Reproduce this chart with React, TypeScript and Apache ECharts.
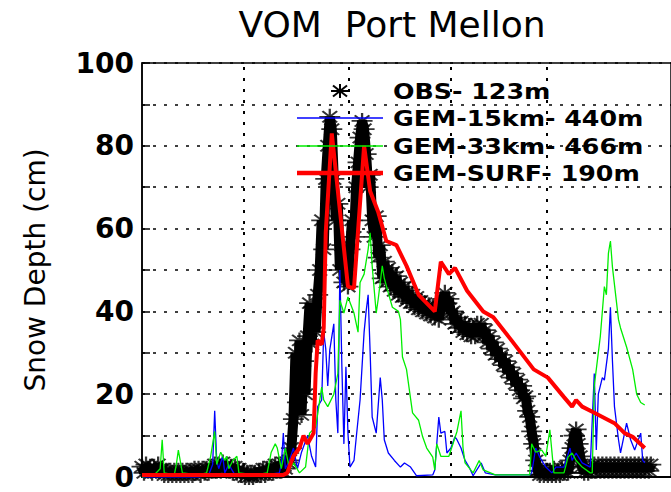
import React, { useEffect, useRef } from "react";
import * as echarts from "echarts";

// Observed snow depth (cm), one reading per day from the start of the record
const obsDepth = [
  2.5, 1, 3, 1.5, 2.5, 1, 2.5, 1.5, 3, 1.5,
  2, 0.5, 1.5, 0.5, 1.5, 0.5, 1.5, 0.5, 1.5, 0.5,
  1.5, 0.5, 1.5, 0.5, 1.5, 0.5, 2, 1, 2, 0.5,
  2, 1, 2, 1, 2.5, 1.5, 3, 1.5, 3, 1.5,
  3.5, 2, 3, 1.5, 2.5, 1, 2.5, 1, 2, 0.5,
  1.5, 0, 1, 0, 1, 0, 1, 0.5, 1.5, 0.5,
  2, 0.5, 2, 1, 2.5, 1, 3, 1.5, 3, 1.5,
  3.5, 2, 3.5, 4, 7, 14, 30, 18, 33, 15,
  28, 20, 34, 42, 32, 41, 35, 44, 50, 62,
  55, 72, 80, 87, 84, 72, 62, 66, 50, 56,
  47, 52, 46, 55, 62, 58, 70, 76, 82, 86,
  84, 78, 70, 73, 62, 58, 63, 53, 56, 48,
  52, 47, 50.5, 46, 49.5, 45, 48.5, 44, 47, 43.5,
  46, 42.5, 45, 42, 44, 41, 43.5, 40.5, 42.5, 40,
  42, 39.5, 41.5, 39, 41, 38.5, 40.5, 38, 41, 43,
  44.5, 42, 43, 39.5, 40, 37, 38.5, 36, 37.5, 35,
  37, 34.5, 36.5, 34, 36, 34, 37, 35, 37, 34,
  35.5, 32.5, 34, 31, 32.5, 29.5, 31, 28.5, 29.5, 27,
  28, 25.5, 26.5, 24, 25, 22.5, 23.5, 21, 22, 19,
  19.5, 16, 14.5, 11, 8, 4, 1.5, 0.5, 1.5, 0.5,
  1.5, 0.5, 1.5, 0.5, 2, 0.5, 1.5, 0.5, 2, 1,
  2.5, 1, 4, 7, 10, 11.5, 8, 5, 2.5, 1,
  2.5, 1, 2.5, 1.5, 3, 1.5, 3, 1.5, 3, 1.5,
  3, 1.5, 3, 1.5, 3, 1.5, 3, 1.5, 3, 1.5,
  3, 1.5, 3, 1.5, 3, 1.5, 3, 1.5, 3, 1.5,
  3, 1.5, 3,
];

// GEM 15 km model
const gem15Days = [
  0, 28, 33, 35, 36, 37, 38, 40, 41, 43,
  46, 61, 68, 69, 70, 71, 73, 75, 77, 79,
  82, 84, 86, 87, 89, 90, 91, 92, 93, 95,
  96, 97, 98, 99, 100, 101, 102, 103, 105, 106,
  108, 110, 111, 112, 113, 114, 116, 118, 119, 120,
  122, 125, 128, 130, 133, 136, 144, 145, 147, 148,
  150, 151, 153, 155, 156, 158, 160, 162, 164, 168,
  170, 175, 192, 193, 195, 197, 200, 203, 205, 209,
  212, 213, 215, 218, 222, 223, 224, 225, 226, 228,
  229, 231, 232, 233, 234, 236, 237, 239, 240, 242,
  244, 247, 248, 249,
];
const gem15Depth = [
  0, 0, 0.5, 3, 16, 4, 2, 5, 1, 3,
  0.5, 0.5, 1, 3, 10.6, 2, 4, 7, 2, 6,
  10, 5, 2.4, 17, 18.6, 35, 31, 22, 30.7, 37,
  18.6, 10.6, 50, 26.5, 8, 26.6, 10.6, 2.4, 4, 9,
  18.6, 35, 40, 44, 30, 14.5, 10.6, 24, 18.6, 9,
  5.8, 4, 2.4, 3.4, 2.4, 0.3, 0.5, 1.7, 14.5, 10.6,
  11, 5.8, 7, 9.7, 9, 7, 4, 2.4, 0.3, 3.4,
  1, 0.5, 0.5, 1, 7, 4.8, 2.4, 1, 2.4, 2.4,
  7, 4, 5.8, 3.4, 2.4, 13.7, 25, 6.5, 20, 24,
  23.4, 31, 41, 28, 17, 9, 5.8, 10.6, 13, 9,
  6.5, 10.6, 4, 3.4,
];

// GEM 33 km model
const gem33Days = [
  0, 6, 9, 10, 11, 16, 17, 18, 20, 28,
  32, 34, 36, 37, 39, 41, 42, 43, 45, 47,
  48, 56, 62, 64, 66, 67, 69, 71, 73, 75,
  78, 81, 83, 86, 89, 90, 92, 95, 97, 98,
  100, 102, 105, 107, 108, 110, 112, 113, 114, 116,
  117, 119, 120, 122, 124, 127, 128, 129, 131, 134,
  137, 139, 141, 144, 145, 146, 148, 152, 156, 158,
  159, 160, 164, 167, 169, 175, 192, 193, 195, 198,
  200, 202, 204, 209, 211, 213, 215, 218, 222, 223,
  224, 227, 229, 230, 231, 232, 233, 236, 237, 240,
  243, 245, 247, 249,
];
const gem33Depth = [
  0, 0.5, 2, 9, 1, 0.5, 3, 6.5, 1, 0.5,
  1, 5, 11, 3, 6, 4, 5, 2, 4, 5,
  1, 0.5, 1, 6, 8, 7, 2, 7, 2, 3.4,
  1, 2.4, 10.6, 12, 21.7, 18.6, 17, 20, 25, 42.7,
  39.6, 43.5, 39.6, 35, 47, 49, 55, 59, 51, 39.6,
  43, 51, 48, 44.4, 41, 40, 38, 29, 26, 15.5,
  13.7, 9.7, 7, 4.8, 1.7, 8, 5, 5, 11, 16,
  7, 3.4, 1, 4, 1.7, 0.5, 0.5, 8, 6, 6.5,
  5, 11.4, 1, 1, 4.8, 5.8, 4, 2.4, 1, 1,
  22, 34, 46, 44, 54, 57, 50.7, 38, 36, 31.4,
  26, 20, 18, 17.4,
];

// GEM surface model
const surfDays = [
  0, 70, 72, 73, 75, 78, 80, 82, 85, 86,
  87, 89, 90, 91, 94, 102, 105, 110, 113, 117,
  121, 126, 131, 137, 145, 148, 152, 155, 161, 169,
  174, 183, 194, 201, 209, 213, 215, 218, 224, 234,
  239, 243, 249,
];
const surfDepth = [
  0.5, 0.5, 1, 2.5, 5, 7, 10, 8, 10.6, 25,
  33, 32, 36, 59, 83, 46, 45.6, 80, 69, 64,
  57, 56, 51, 44, 40, 52, 49, 50.5, 45, 40,
  38.6, 33, 26, 24, 19.3, 17, 18.6, 17, 15.5, 13,
  10.6, 9.7, 7,
];

// first day of each month, in days from the start of the record
const monthStartDays = [50.5, 102.5, 153, 200.5];

const seriesNames = ["OBS- 123m", "GEM-15km- 440m", "GEM-33km- 466m", "GEM-SURF- 190m"];
const seriesColors = ["#000000", "#0000ff", "#00ee00", "#ff0000"];
const yLabelTicks = [0, 20, 40, 60, 80, 100];

const FONT = "DejaVu Sans";
// eight-armed asterisk marker
const STAR = "path://M0,5L10,5M5,0L5,10M1.5,1.5L8.5,8.5M8.5,1.5L1.5,8.5";

const pairs = (xs: number[], ys: number[]) => xs.map((x, i) => [x, ys[i]]);

export default function App() {
  const ref = useRef<HTMLDivElement>(null);

  useEffect(() => {
    if (!ref.current) return;
    const chart = echarts.init(ref.current, null, { renderer: "svg" });

    const gridDash = { color: "#000", width: 1.5, type: [3, 8] as number[] };
    const obsPoints = obsDepth.map((v, i) => [i, v]);

    // legend rows: y centre of each entry
    const rowY = [91, 118, 146, 173];
    const lineX0 = 297;
    const lineX1 = 383;
    const starCx = 340;
    const legendLines = [1, 2, 3].map((k) => ({
      type: "line",
      z: 100,
      shape: { x1: lineX0, y1: rowY[k], x2: lineX1, y2: rowY[k] },
      style: { stroke: seriesColors[k], lineWidth: k === 3 ? 4.5 : 1.5 },
    }));
    const legendTexts = seriesNames.map((name, k) => ({
      type: "text",
      z: 100,
      x: 393,
      y: rowY[k] + 1,
      scaleX: 1.15,
      style: {
        text: name,
        font: `bold 22px "${FONT}"`,
        fill: "#000",
        verticalAlign: "middle",
        align: "left",
      },
    }));
    const star = {
      type: "group",
      z: 100,
      x: starCx,
      y: rowY[0],
      children: [
        { type: "line", shape: { x1: -9, y1: 0, x2: 9, y2: 0 } },
        { type: "line", shape: { x1: 0, y1: -7, x2: 0, y2: 7 } },
        { type: "line", shape: { x1: -7, y1: -5.5, x2: 7, y2: 5.5 } },
        { type: "line", shape: { x1: 7, y1: -5.5, x2: -7, y2: 5.5 } },
      ].map((c) => ({ ...c, style: { stroke: "#000", lineWidth: 2 } })),
    };

    chart.setOption({
      animation: false,
      backgroundColor: "#fff",
      grid: {
        left: 142,
        top: 63,
        width: 553,
        height: 414,
        show: true,
        borderColor: "#000",
        borderWidth: 1.5,
      },
      xAxis: {
        type: "value",
        min: 0,
        max: 262,
        axisLine: { show: true, onZero: false, lineStyle: { color: "#000", width: 2 } },
        axisTick: { show: false },
        axisLabel: { show: false },
        splitLine: { show: false },
      },
      yAxis: {
        type: "value",
        min: 0,
        max: 100,
        interval: 10,
        axisLine: { show: true, lineStyle: { color: "#000", width: 1.5 } },
        axisTick: { show: true, inside: true, length: 8, lineStyle: { color: "#000", width: 1.5 } },
        axisLabel: {
          color: "#000",
          fontFamily: FONT,
          fontWeight: "bold",
          fontSize: 28,
          lineHeight: 22,
          margin: 8,
          formatter: (v: number) => (yLabelTicks.includes(v) ? String(v) : ""),
        },
        splitLine: { show: true, lineStyle: gridDash },
      },
      series: [
        {
          name: "month grid",
          type: "line",
          data: [],
          z: 1,
          markLine: {
            z: 1,
            silent: true,
            symbol: "none",
            label: { show: false },
            lineStyle: { color: "#000", width: 2, type: [3, 8] },
            data: monthStartDays.map((d) => ({ xAxis: d })),
          },
        },
        {
          // densely overplotted readings merge into a dark band under the markers
          name: "obs band",
          type: "line",
          data: obsPoints,
          showSymbol: false,
          lineStyle: { color: "#000", width: 10 },
          z: 2,
        },
        {
          name: seriesNames[0],
          type: "scatter",
          data: obsPoints,
          symbol: STAR,
          symbolSize: [21, 16],
          itemStyle: { color: "none", borderColor: "#000", borderWidth: 2 },
          z: 2,
        },
        {
          name: seriesNames[1],
          type: "line",
          data: pairs(gem15Days, gem15Depth),
          showSymbol: false,
          lineStyle: { color: seriesColors[1], width: 1.3 },
          z: 3,
        },
        {
          name: seriesNames[2],
          type: "line",
          data: pairs(gem33Days, gem33Depth),
          showSymbol: false,
          lineStyle: { color: seriesColors[2], width: 1.3 },
          z: 4,
        },
        {
          name: seriesNames[3],
          type: "line",
          data: pairs(surfDays, surfDepth),
          showSymbol: false,
          lineStyle: { color: seriesColors[3], width: 4 },
          z: 5,
        },
      ],
      graphic: [
        {
          type: "text",
          x: 392,
          y: 24,
          style: {
            text: "VOM  Port Mellon",
            font: `36px "${FONT}"`,
            fill: "#000",
            align: "center",
            verticalAlign: "middle",
          },
        },
        {
          type: "text",
          x: 35,
          y: 270,
          rotation: Math.PI / 2,
          style: {
            text: "Snow Depth (cm)",
            font: `28px "${FONT}"`,
            fill: "#000",
            align: "center",
            verticalAlign: "middle",
          },
        },
        star,
        ...legendLines,
        ...legendTexts,
      ],
    });

    return () => chart.dispose();
  }, []);

  return (
    <div
      ref={ref}
      style={{ position: "fixed", left: 0, top: 0, width: 671, height: 492, background: "#fff" }}
    />
  );
}
